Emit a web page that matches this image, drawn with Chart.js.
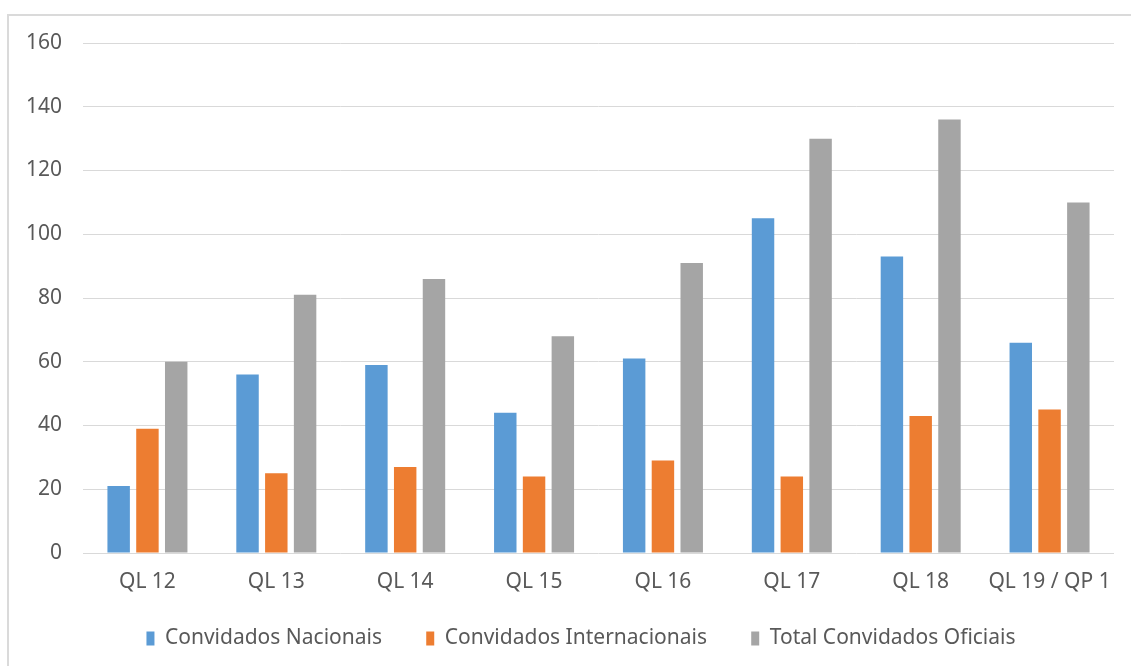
<!DOCTYPE html>
<html>
<head>
<meta charset="utf-8">
<script src="https://cdn.jsdelivr.net/npm/chart.js@4.4.0/dist/chart.umd.min.js"></script>
<style>
  html, body { margin: 0; padding: 0; background: #fff; }
  #wrap { position: relative; width: 1131px; height: 666px; overflow: hidden; }
  #frame { position: absolute; left: 7px; top: 14px; width: 1200px; height: 700px;
           border-left: 2px solid #dadada; border-top: 2px solid #dadada; }
  canvas { position: absolute; left: 0; top: 0; }
</style>
</head>
<body>
<div id="wrap">
  <div id="frame"></div>
  <canvas id="chart" width="1131" height="666"></canvas>
</div>
<script>
// categories and series
const categories = ['QL 12', 'QL 13', 'QL 14', 'QL 15', 'QL 16', 'QL 17', 'QL 18', 'QL 19 / QP 1'];
const nacionais = [21, 56, 59, 44, 61, 105, 93, 66];
const internacionais = [39, 25, 27, 24, 29, 24, 43, 45];
const totalOficiais = [60, 81, 86, 68, 91, 130, 136, 110];
const seriesNames = ['Convidados Nacionais', 'Convidados Internacionais', 'Total Convidados Oficiais'];
const seriesColors = ['#5b9bd5', '#ed7d31', '#a5a5a5'];
const yTicks = [0, 20, 40, 60, 80, 100, 120, 140, 160];

const textColor = '#595959';
const fontFamily = '"Noto Sans", "Open Sans", sans-serif';

Chart.defaults.font.family = fontFamily;
Chart.defaults.font.size = 21;
Chart.defaults.color = textColor;

const ctx = document.getElementById('chart').getContext('2d');

new Chart(ctx, {
    type: 'bar',
    data: {
        labels: categories,
        datasets: [nacionais, internacionais, totalOficiais].map((values, i) => ({
            label: seriesNames[i],
            data: values,
            backgroundColor: seriesColors[i],
            borderWidth: 0,
            barPercentage: 0.78,
            categoryPercentage: 0.67
        }))
    },
    options: {
        responsive: false,
        animation: false,
        layout: { padding: { left: 48, right: 17, top: 43, bottom: 7 } },
        scales: {
            x: {
                grid: { display: false, drawTicks: false },
                border: { display: false },
                ticks: { padding: 16, color: textColor, maxRotation: 0, autoSkip: false },
                afterFit: (scale) => { scale.height = 69; }
            },
            y: {
                min: yTicks[0],
                max: yTicks[yTicks.length - 1],
                grid: { color: '#d9d9d9', lineWidth: 1, drawTicks: false },
                border: { display: false },
                // mirrored + far alignment keeps the labels right-aligned left of the plot without clipping
                ticks: { stepSize: 20, mirror: true, crossAlign: 'far', padding: -57, color: textColor },
                afterFit: (scale) => { scale.width = 35; }
            }
        },
        plugins: {
            tooltip: { enabled: false },
            legend: {
                position: 'bottom',
                labels: {
                    boxWidth: 8,
                    boxHeight: 14,
                    padding: 6,
                    color: textColor,
                    generateLabels: (chart) => {
                        const items = Chart.defaults.plugins.legend.labels.generateLabels(chart);
                        // extra room after the first two entries, like the original legend
                        items.forEach((item, i) => {
                            item.lineWidth = 0;
                            if (i < items.length - 1) item.text = item.text + '       ';
                        });
                        return items;
                    }
                }
            }
        }
    }
});
</script>
</body>
</html>
